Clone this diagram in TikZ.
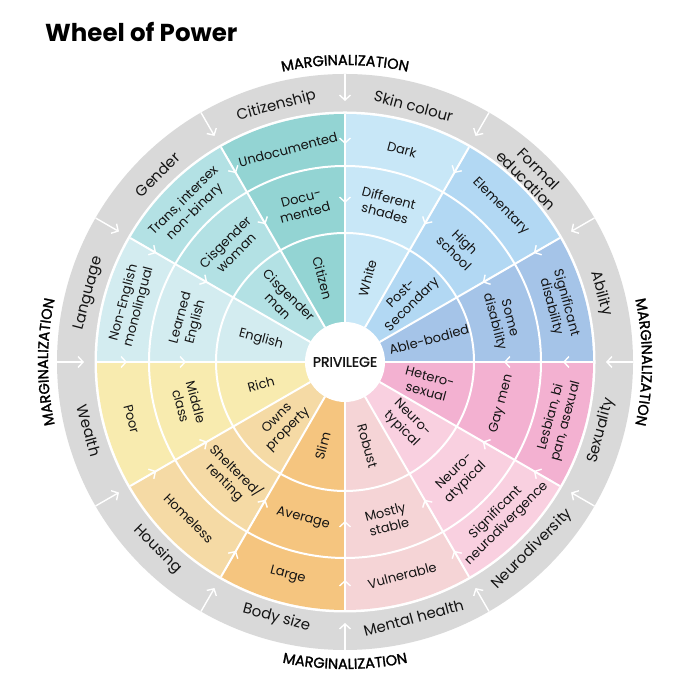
\documentclass[tikz,border=0pt]{standalone}
\usepackage{fontspec}
\setmainfont{Poppins}
\newfontfamily\margfont[FakeBold=1.6]{Poppins}
\usetikzlibrary{decorations.text,arrows.meta}
\definecolor{cit}{HTML}{93D4D3}
\definecolor{gen}{HTML}{B3E1E4}
\definecolor{lang}{HTML}{D3ECF0}
\definecolor{skin}{HTML}{C8E7F7}
\definecolor{edu}{HTML}{B2D8F3}
\definecolor{abil}{HTML}{A5C4E8}
\definecolor{sex}{HTML}{F3B1D1}
\definecolor{neuro}{HTML}{F9D0E0}
\definecolor{mental}{HTML}{F5D4D6}
\definecolor{body}{HTML}{F5C57F}
\definecolor{house}{HTML}{F5DAA5}
\definecolor{wealth}{HTML}{F8EBAF}
\definecolor{ring}{HTML}{D9D9D9}
\definecolor{ink}{HTML}{141414}
\newcommand\wlab[5]{\node[lab, rotate=#4] (#1) at (#2:#3) {#5};}
\newcommand\glab[4]{\node[glabel, rotate=#3] (#1) at (#2:265) {#4};}
\begin{document}
\begin{tikzpicture}[x=1pt,y=1pt,
  lab/.style={font=\fontsize{13}{15.5}\selectfont, align=center, inner sep=0pt, text=ink},
  glabel/.style={font=\fontsize{15}{17}\selectfont, align=center, inner sep=0pt, text=ink},
  arr/.style={white, line width=1.4pt, -{Straight Barb[length=5pt,width=11pt]}},
  wl/.style={white, line width=2pt},
  marg/.style={decorate, decoration={text along path, text align=center,
     text={|\margfont\fontsize{14.5}{16}\selectfont|MARGINALIZATION}}}]
\useasboundingbox (0,0) rectangle (700,700);
\fill[white] (0,0) rectangle (700,700);
\node[anchor=base west, font=\bfseries\fontsize{24.5}{28}\selectfont, inner sep=0pt, text=black] (title) at (45,658) {Wheel of Power};
\begin{scope}[shift={(345,338)}]
\fill[ring] (0,0) circle[radius=288];
\fill[white] (0,0) circle[radius=250.5];
\foreach \a/\c in {90/cit,120/gen,150/lang,180/wealth,210/house,240/body,270/mental,300/neuro,330/sex,0/abil,30/edu,60/skin}
  \fill[\c] (0,0) -- (\a:248) arc[start angle=\a, end angle=\a+30, radius=248] -- cycle;
\draw[wl] (0,0) circle[radius=129];
\draw[wl] (0,0) circle[radius=196];
\foreach \a in {0,30,...,330} {
  \draw[wl] (\a:40) -- (\a:248);
  \draw[arr] (\a:288) -- (\a:261);
  \draw[arr] (\a:240) -- (\a:218);
  \draw[arr] (\a:190) -- (\a:159);
}
\fill[white] (0,0) circle[radius=40];
\node[font=\margfont\fontsize{14}{16}\selectfont, inner sep=0pt, text=ink] (priv) at (0,0) {PRIVILEGE};
% marginalization labels
\path[marg] (120:297) arc[start angle=120, end angle=60, radius=297];
\path[marg] (30:297) arc[start angle=30, end angle=-30, radius=297];
\path[marg] (210:297) arc[start angle=210, end angle=150, radius=297];
\path[marg] (240:307) arc[start angle=240, end angle=300, radius=307];
% grey ring labels
\glab{g1}{105}{15}{Citizenship}
\glab{g2}{75}{-15}{Skin colour}
\glab{g3}{45}{-45}{Formal\\education}
\glab{g4}{15}{-75}{Ability}
\glab{g5}{-15}{75}{Sexuality}
\glab{g6}{-45}{45}{Neurodiversity}
\glab{g7}{-75}{15}{Mental health}
\glab{g8}{-105}{-15}{Body size}
\glab{g9}{-135}{-45}{Housing}
\glab{g10}{-165}{-75}{Wealth}
\glab{g11}{165}{75}{Language}
\glab{g12}{135}{45}{Gender}
% Citizenship
\wlab{o1}{105}{220}{15}{Undocumented}
\wlab{m1}{105}{162}{15}{Docu-\\mented}
\wlab{i1}{105}{87}{-75}{Citizen}
% Gender
\wlab{o2}{135}{220}{45}{Trans, intersex\\non-binary}
\wlab{m2}{135}{162}{45}{Cisgender\\woman}
\wlab{i2}{135}{87}{-45}{Cisgender\\man}
% Language
\wlab{o3}{165}{221}{75}{Non-English\\monolingual}
\wlab{m3}{165}{162}{75}{Learned\\English}
\wlab{i3}{165}{87}{-15}{English}
% Wealth
\wlab{o4}{-165}{221}{-75}{Poor}
\wlab{m4}{-165}{162}{-75}{Middle\\class}
\wlab{i4}{-165}{87}{15}{Rich}
% Housing
\wlab{o5}{-135}{221}{-45}{Homeless}
\wlab{m5}{-135}{162}{-45}{Sheltered/\\renting}
\wlab{i5}{-135}{88}{45}{Owns\\property}
% Body size
\wlab{o6}{-105}{221}{-15}{Large}
\wlab{m6}{-105}{162}{-15}{Average}
\wlab{i6}{-105}{87}{75}{Slim}
% Mental health
\wlab{o7}{-75}{221}{15}{Vulnerable}
\wlab{m7}{-75}{163}{15}{Mostly\\stable}
\wlab{i7}{-75}{87}{-75}{Robust}
% Neurodiversity
\wlab{o8}{-45}{221}{45}{Significant\\neurodivergence}
\wlab{m8}{-45}{163}{45}{Neuro-\\atypical}
\wlab{i8}{-45}{87}{-45}{Neuro-\\typical}
% Sexuality
\wlab{o9}{-15}{221}{75}{Lesbian, bi\\pan, asexual}
\wlab{m9}{-15}{162}{75}{Gay men}
\wlab{i9}{-15}{86}{-15}{Hetero-\\sexual}
% Ability
\wlab{o10}{15}{221}{-75}{Significant\\disability}
\wlab{m10}{15}{162}{-75}{Some\\disability}
\wlab{i10}{15}{87}{15}{Able-bodied}
% Formal education
\wlab{o11}{45}{220}{-45}{Elementary}
\wlab{m11}{45}{162}{-45}{High\\school}
\wlab{i11}{45}{88}{45}{Post-\\Secondary}
% Skin colour
\wlab{o12}{75}{220}{-15}{Dark}
\wlab{m12}{75}{162}{-15}{Different\\shades}
\wlab{i12}{75}{87}{75}{White}
\end{scope}
\end{tikzpicture}
\end{document}
